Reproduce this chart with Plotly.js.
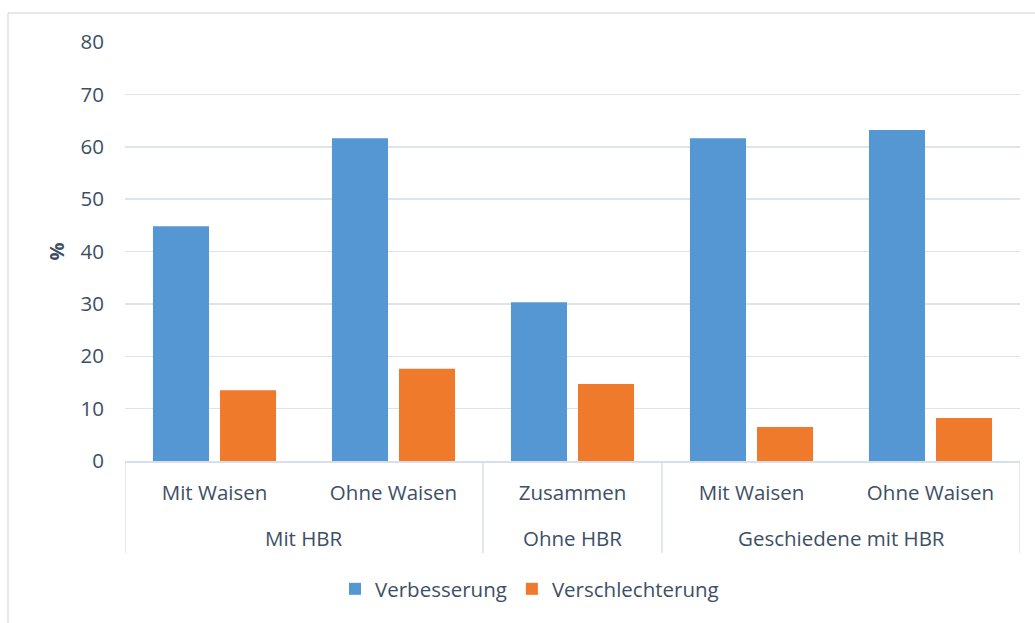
<!DOCTYPE html>
<html><head><meta charset="utf-8">
<script src="https://cdn.plot.ly/plotly-3.0.1.min.js"></script>
<style>html,body{margin:0;padding:0;background:#fff;}#chart{width:1035px;height:623px;}</style>
</head><body><div id="chart"></div>
<script>
const groups = ["Mit HBR", "Mit HBR", "Ohne HBR", "Geschiedene mit HBR", "Geschiedene mit HBR"];
const subcats = ["Mit Waisen", "Ohne Waisen", "Zusammen", "Mit Waisen", "Ohne Waisen"];
const verbesserung = [44.8, 61.6, 30.3, 61.6, 63.2];
const verschlechterung = [13.5, 17.6, 14.7, 6.5, 8.2];
const seriesNames = ["Verbesserung", "Verschlechterung"];

const txt = '#3D4F66';
const lineCol = '#D9DFE8';
const fs = 20.5;
const font = {family: 'Open Sans, Noto Sans, sans-serif', size: fs, color: txt};

const idx = subcats.map((_, i) => i);

// plot area geometry in px (for paper conversions of label rows)
const plotTop = 42, plotBottom = 461, plotH = plotBottom - plotTop;
const plotLeft = 125, plotRight = 1020, plotW = plotRight - plotLeft;
const py = px => (plotBottom - px) / plotH;

// group spans
const spans = [];
groups.forEach((g, i) => {
  if (spans.length && spans[spans.length - 1].name === g) spans[spans.length - 1].end = i;
  else spans.push({name: g, start: i, end: i});
});

const shapes = [];
const bounds = [-0.5].concat(spans.map(s => s.end + 0.5));
bounds.forEach(b => shapes.push({type: 'line', xref: 'x', yref: 'paper', x0: b, x1: b,
  y0: 0, y1: py(553), line: {color: lineCol, width: 1.5}}));
// outer chart frame (top and left edges visible)
shapes.push({type: 'line', xref: 'paper', yref: 'paper', x0: (8 - plotLeft) / plotW, x1: (1040 - plotLeft) / plotW,
  y0: py(13), y1: py(13), line: {color: '#DCE2EA', width: 1.5}});
shapes.push({type: 'line', xref: 'paper', yref: 'paper', x0: (8 - plotLeft) / plotW, x1: (8 - plotLeft) / plotW,
  y0: py(13), y1: py(640), line: {color: '#DCE2EA', width: 1.5}});

const annotations = spans.map(s => ({
  x: (s.start + s.end) / 2, xref: 'x', y: py(538), yref: 'paper',
  text: s.name, showarrow: false, xanchor: 'center', yanchor: 'middle',
  font: {size: fs, color: txt}
}));

const data = [
  {type: 'bar', name: seriesNames[0], x: idx, y: verbesserung,
   marker: {color: '#5597D3', line: {width: 0}}},
  {type: 'bar', name: seriesNames[1], x: idx, y: verschlechterung,
   marker: {color: '#EF7A2C', line: {width: 0}}}
];

const layout = {
  width: 1035, height: 623,
  margin: {l: plotLeft, r: 1035 - plotRight, t: plotTop, b: 623 - plotBottom},
  paper_bgcolor: '#fff', plot_bgcolor: '#fff',
  font: font,
  barmode: 'group', bargap: 0.251, bargroupgap: 0.164,
  showlegend: true,
  legend: {orientation: 'h', x: (335 - plotLeft) / plotW, xanchor: 'left', y: py(589), yanchor: 'middle',
           font: {size: fs, color: txt}, itemwidth: 30, traceorder: 'normal'},
  xaxis: {type: 'linear', range: [-0.5, subcats.length - 0.5], tickvals: idx, ticktext: subcats,
          showline: true, linecolor: lineCol, linewidth: 1.5,
          ticks: '', ticklabelstandoff: 13, tickfont: {size: fs, color: txt},
          showgrid: false, zeroline: false},
  yaxis: {range: [0, 80], dtick: 10, showgrid: true, gridcolor: '#DFE4EC', gridwidth: 1.5,
          zeroline: false, showline: false, ticks: '', ticklabelstandoff: 20,
          tickfont: {size: fs, color: txt},
          title: {text: '<b>%</b>', font: {size: 20, color: txt}, standoff: 10}},
  shapes: shapes,
  annotations: annotations
};

Plotly.newPlot('chart', data, layout, {displayModeBar: false, staticPlot: true});
</script></body></html>
